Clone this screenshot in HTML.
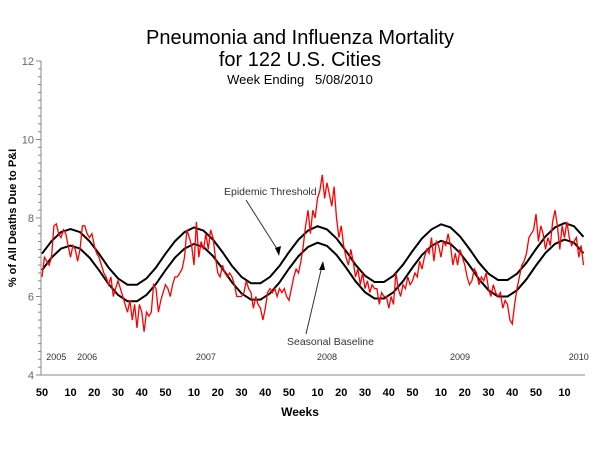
<!DOCTYPE html>
<html><head><meta charset="utf-8"><style>
body{margin:0;background:#fff}
svg{font-family:"Liberation Sans",Arial,sans-serif;display:block}
</style></head><body>
<svg id="chart" width="600" height="450">
<text x="300" y="44" text-anchor="middle" font-size="20">Pneumonia and Influenza Mortality</text>
<text x="300" y="66" text-anchor="middle" font-size="20">for 122 U.S. Cities</text>
<text x="300" y="84" text-anchor="middle" font-size="13" xml:space="preserve">Week Ending   5/08/2010</text>
<text transform="translate(16,218) rotate(-90)" text-anchor="middle" font-size="11" font-weight="bold">% of All Deaths Due to P&amp;I</text>
<text x="300" y="416" text-anchor="middle" font-size="12" font-weight="bold">Weeks</text>
<g id="axes"></g>
<g id="series"></g>
<text x="224" y="195" font-size="10.5" fill="#333">Epidemic Threshold</text>
<line x1="246" y1="200" x2="279" y2="252" stroke="#333" stroke-width="1"/>
<polygon points="279,256 275,248 281,246" fill="#000"/>
<text x="287" y="345" font-size="10.5" fill="#333">Seasonal Baseline</text>
<line x1="306" y1="334" x2="322" y2="266" stroke="#333" stroke-width="1"/>
<polygon points="323,261 319,270 325,270" fill="#000"/>
</svg>
<script>
const observed=[6.5,7.0,6.9,6.8,7.0,7.8,7.85,7.6,7.5,7.7,7.6,
7.3,7.0,7.3,7.2,6.9,7.2,7.8,7.8,7.6,7.5,
7.6,7.3,7.1,7.0,6.8,6.6,6.5,6.3,6.5,6.0,
6.2,6.4,6.2,6.0,5.8,5.6,5.9,5.4,5.8,5.2,
5.8,5.6,5.1,5.6,5.5,5.6,6.3,6.2,5.6,5.9,6.1,6.3,
6.2,6.0,6.3,6.5,6.5,6.6,6.7,7.0,7.7,7.5,7.3,6.8,
7.9,7.0,7.4,7.2,7.6,7.2,7.7,7.5,7.0,6.6,6.5,
6.8,6.6,6.5,6.6,6.5,6.3,6.0,6.0,6.0,6.1,6.4,6.2,6.1,5.7,6.0,
5.8,5.7,5.4,5.7,6.1,6.2,6.1,6.2,6.0,6.2,6.1,6.2,6.0,5.9,
6.2,6.5,6.7,6.6,6.9,7.3,7.8,8.2,7.6,8.2,8.0,8.5,8.7,9.1,
8.5,8.9,8.6,8.3,8.8,8.0,7.5,7.8,7.3,7.0,6.8,7.2,
6.9,6.5,6.7,6.3,6.6,6.2,6.4,6.1,6.3,6.2,6.2,5.8,6.1,6.0,6.0,
5.7,6.0,5.8,6.6,6.2,6.0,6.3,6.2,6.5,6.3,6.4,6.6,6.5,6.9,6.7,
7.0,7.2,7.1,7.5,6.9,7.4,7.3,7.0,7.4,7.3,7.6,7.3,6.8,7.1,6.8,
7.2,7.0,6.8,6.5,6.3,6.4,6.7,6.6,6.3,6.5,6.4,6.6,6.2,6.0,6.3,
6.1,6.0,6.1,5.7,5.9,5.8,5.4,5.3,5.8,6.2,
6.5,6.8,6.9,7.1,7.5,7.6,7.7,8.1,7.4,7.8,7.6,7.2,7.5,7.3,
7.9,8.2,7.8,7.2,7.8,7.5,7.9,7.5,7.3,7.4,7.5,7.0,7.3,6.8];
// baseline/threshold sampled every 4 weeks
const baseline=[6.67,6.99,7.22,
7.30,7.22,6.99,6.67,6.32,6.04,5.88,5.88,6.04,6.32,6.67,6.99,7.22,
7.34,7.26,7.03,6.71,6.36,6.08,5.92,5.92,6.08,6.36,6.71,7.03,7.26,
7.37,7.29,7.06,6.74,6.39,6.11,5.95,5.95,6.11,6.39,6.74,7.06,7.29,
7.42,7.34,7.11,6.79,6.44,6.16,6.00,6.00,6.16,6.44,6.79,7.11,7.34,
7.45,7.37,7.10];
const threshold=[7.09,7.41,7.64,
7.72,7.64,7.41,7.09,6.74,6.46,6.30,6.30,6.46,6.74,7.09,7.41,7.64,
7.76,7.68,7.45,7.13,6.78,6.50,6.34,6.34,6.50,6.78,7.13,7.45,7.68,
7.79,7.71,7.48,7.16,6.81,6.53,6.37,6.37,6.53,6.81,7.16,7.48,7.71,
7.84,7.76,7.53,7.21,6.86,6.58,6.42,6.42,6.58,6.86,7.21,7.53,7.76,
7.87,7.79,7.52];
const yTicks=[4,6,8,10,12];
const xTickLabels=["50","10","20","30","40","50","10","20","30","40","50","10","20","30","40","50","10","20","30","40","50","10"];
const xTickWeeks=[0,12,22,32,42,52,64,74,84,94,104,116,126,136,146,156,168,178,188,198,208,220];
const yearLabels=["2005","2006","2007","2008","2009","2010"];
const yearWeeks=[6,19,69,120,176,226];

const NS="http://www.w3.org/2000/svg";
const X=i=>42+i*2.375;
const Y=v=>375-(v-4)*39.25;
function mk(t,a,p){const e=document.createElementNS(NS,t);for(const k in a)e.setAttribute(k,a[k]);p.appendChild(e);return e;}
const ax=document.getElementById('axes'), se=document.getElementById('series');
let l=mk('line',{x1:41,y1:Y(12),x2:41,y2:375,stroke:'#888'},ax);


l=mk('line',{x1:41,y1:375,x2:585,y2:375,stroke:'#888'},ax);


for(let v=4;v<=12.001;v+=0.2){
  const m=Math.abs(v-Math.round(v/2)*2)<0.01;
  const t=mk('line',{x1:m?36:38,y1:Y(v),x2:41,y2:Y(v),stroke:'#888'},ax);
  
  
}
yTicks.forEach(v=>{
  const t=mk('text',{x:34,y:Y(v)+4,'text-anchor':'end','font-size':11,fill:'#666'},ax);
  t.textContent=v;
  
  
});
xTickLabels.forEach((s,k)=>{
  const t=mk('text',{x:X(xTickWeeks[k]),y:396,'text-anchor':'middle','font-size':11,'font-weight':'bold'},ax);
  t.textContent=s;
  
  
});
yearLabels.forEach((s,k)=>{
  const t=mk('text',{x:X(yearWeeks[k]),y:360,'text-anchor':'middle','font-size':9,fill:'#333'},ax);
  t.textContent=s;
  
  
});
function path(arr,step){return arr.map((v,i)=>(i?'L':'M')+X(i*step).toFixed(1)+','+Y(v).toFixed(1)).join('');}
let p=mk('path',{d:path(threshold,4),fill:'none',stroke:'#000','stroke-width':2},se);


p=mk('path',{d:path(baseline,4),fill:'none',stroke:'#000','stroke-width':2},se);


p=mk('path',{d:path(observed,1),fill:'none',stroke:'#f00','stroke-width':1.3},se);


</script>
</body></html>
